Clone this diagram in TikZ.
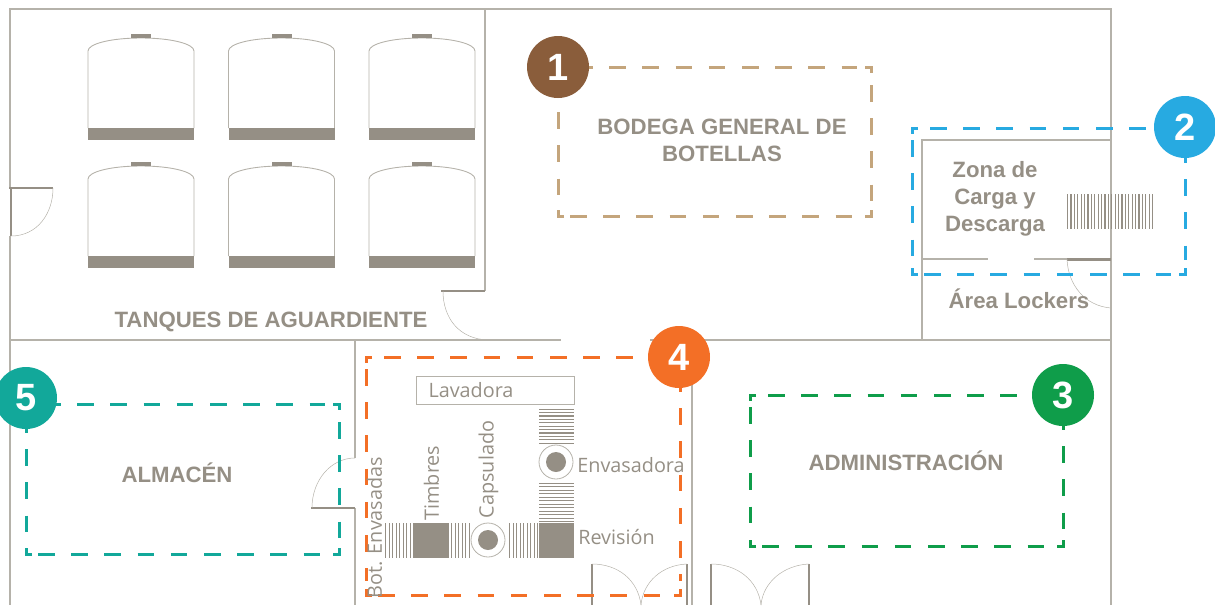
\documentclass[tikz,border=0pt]{standalone}
\usepackage{fontspec}
\setmainfont{Liberation Sans}
\newfontfamily\maquina{Open Sans}
\definecolor{muro}{HTML}{B5B2AA}
\definecolor{gris}{HTML}{958F85}
\definecolor{cafe}{HTML}{8A5D3B}
\definecolor{tan}{HTML}{C4A57C}
\definecolor{celeste}{HTML}{27AAE1}
\definecolor{verde}{HTML}{0F9D4A}
\definecolor{naranja}{HTML}{F36F26}
\definecolor{turquesa}{HTML}{12A89A}
\newcommand{\zonadash}[5]{
	\draw[line width=3pt,#1](#2+6,#3)--(#2,#3)--(#2,#3+6);
	\draw[line width=3pt,#1](#4-6,#3)--(#4,#3)--(#4,#3+6);
	\draw[line width=3pt,#1](#4-6,#5)--(#4,#5)--(#4,#5-6);
	\draw[line width=3pt,#1](#2+6,#5)--(#2,#5)--(#2,#5-6);
	\draw[zona,#1](#2+18,#3)--(#4-14,#3);
	\draw[zona,#1](#4,#3+18)--(#4,#5-14);
	\draw[zona,#1](#2+12,#5)--(#4-14,#5);
	\draw[zona,#1](#2,#3+12)--(#2,#5-14);
}
\begin{document}
\begin{tikzpicture}[x=1pt, y=-1pt,
	wall/.style={muro, line width=1.2pt},
	hoja/.style={gris, line width=2.1pt},
	barrido/.style={muro, line width=0.5pt},
	zona/.style={line width=3pt, dash pattern=on 16.6pt off 16.6pt},
	titulo/.style={gris, font=\bfseries\fontsize{22.2}{27}\selectfont, align=center},
	maq/.style={gris, font=\maquina\fontsize{19.8}{23}\selectfont},
	numero/.style={circle, minimum size=62pt, inner sep=0pt, text=white, font=\bfseries\fontsize{38}{38}\selectfont}]
	\useasboundingbox(0,0)rectangle(1215,605);

	% muros
	\draw[wall](10,188)--(10,9)--(1111,9)--(1111,605);
	\draw[wall](10,236)--(10,605);
	\draw[wall](485,9)--(485,291);
	\draw[wall](10,340)--(561,340);
	\draw[wall](650,340)--(1111,340);
	\draw[wall](355,340)--(355,458);
	\draw[wall](355,508)--(355,605);
	\draw[wall](692,340)--(692,605);
	\draw[wall](922,340)--(922,140)--(1111,140);
	\draw[wall](922,259)--(988,259);
	\draw[wall](1034,259)--(1111,259);

	% puertas
	\draw[hoja](9,188)--(53,188);
	\draw[hoja](11,188)--(11,236);
	\draw[barrido](53,188)..controls(53,214)and(37,236)..(11,236);
	\draw[hoja](441,291)--(485,291);
	\draw[barrido](443,291)..controls(443,318)and(459,339)..(488,340);
	\draw[hoja](311,508)--(355,508);
	\draw[barrido](312,508)..controls(312,480)and(331,458)..(355,458);
	\draw[hoja](1067,259.5)--(1111,259.5);
	\draw[barrido](1067,259)..controls(1068,285)and(1085,306)..(1111,308);
	\draw[hoja](592,564)--(592,605);
	\draw[hoja](687,564)--(687,605);
	\draw[hoja](711,564)--(711,605);
	\draw[hoja](809,564)--(809,605);
	\draw[barrido](592,564)..controls(618,564)and(638,580)..(641,605);
	\draw[barrido](687,564)..controls(662,565)and(643,582)..(641,605);
	\draw[barrido](711,564)..controls(737,564)and(758,580)..(761,605);
	\draw[barrido](809,564)..controls(784,565)and(763,582)..(761,605);

	% tanques
	\foreach \x in {88,228.5,369}
	\foreach \y in {0,128}{
		\begin{scope}[shift={(\x,\y)}]
			\draw[barrido, line width=0.9pt](0,128)--(0,51)..controls(0,44)and(22,38)..(53,38)..controls(84,38)and(106,44)..(106,51)--(106,128);
			\fill[gris](43,34)rectangle(63,38);
			\fill[gris](0,128)rectangle(106,140);
		\end{scope}
	}

	% linea de envasado
	\draw[wall, line width=1pt](416,376)rectangle(574,404);
	\foreach \x in {385,388.5,...,413.5}{\fill[gris](\x,523)rectangle(\x+1.2,558);}
	\foreach \x in {451,454.5,...,469}{\fill[gris](\x,523)rectangle(\x+1.2,558);}
	\foreach \x in {509,512.5,...,537.5}{\fill[gris](\x,523)rectangle(\x+1.2,558);}
	\foreach \y in {408.5,411.9,...,443}{\fill[gris](539,\y)rectangle(574,\y+1.2);}
	\foreach \y in {482.5,486,...,522}{\fill[gris](539,\y)rectangle(574,\y+1.2);}
	\foreach \x in {1067,1070.4,...,1153.5}{\fill[gris](\x,194)rectangle(\x+1.2,229);}
	\fill[gris](414,523)rectangle(449,558);
	\fill[gris](539,523)rectangle(574,558);
	\draw[barrido, line width=0.8pt](556,462)circle(17);
	\fill[gris](556,462)circle(10);
	\draw[barrido, line width=0.8pt](488,540)circle(17);
	\fill[gris](488,540)circle(10);

	% zonas
	\zonadash{tan}{558}{67}{871}{216}
	\zonadash{celeste}{912}{128}{1185}{274}
	\zonadash{verde}{750}{395}{1063}{546}
	\zonadash{naranja}{366}{357}{680}{595}
	\zonadash{turquesa}{26}{404}{339}{554}

	% textos
	\draw(271,322)node(tanques)[titulo]{TANQUES DE AGUARDIENTE};
	\draw(722,140.5)node(bodega)[titulo]{BODEGA GENERAL DE\\BOTELLAS};
	\draw(995,199)node(carga)[titulo]{Zona de\\Carga y\\Descarga};
	\draw(1019,299)node(lockers)[titulo]{Área Lockers};
	\draw(177,473)node(almacen)[titulo]{ALMACÉN};
	\draw(906,461)node(admin)[titulo]{ADMINISTRACIÓN};
	\draw(471,390)node(lavadora)[maq]{Lavadora};
	\draw(631,465)node(envasadora)[maq]{Envasadora};
	\draw(616.5,537.5)node(revision)[maq]{Revisión};
	\draw(488.5,469.5)node(capsulado)[maq, rotate=90]{Capsulado};
	\draw(431.5,483)node(timbres)[maq, rotate=90]{Timbres};
	\draw(374.5,527.5)node(botellas)[maq, rotate=90]{Bot. Envasadas};

	% numeros
	\draw(558,67)node(n1)[numero, fill=cafe]{1};
	\draw(1185,127)node(n2)[numero, fill=celeste]{2};
	\draw(1063,395)node(n3)[numero, fill=verde]{3};
	\draw(679,357)node(n4)[numero, fill=naranja]{4};
	\draw(26,398)node(n5)[numero, fill=turquesa]{5};
\end{tikzpicture}
\end{document}
